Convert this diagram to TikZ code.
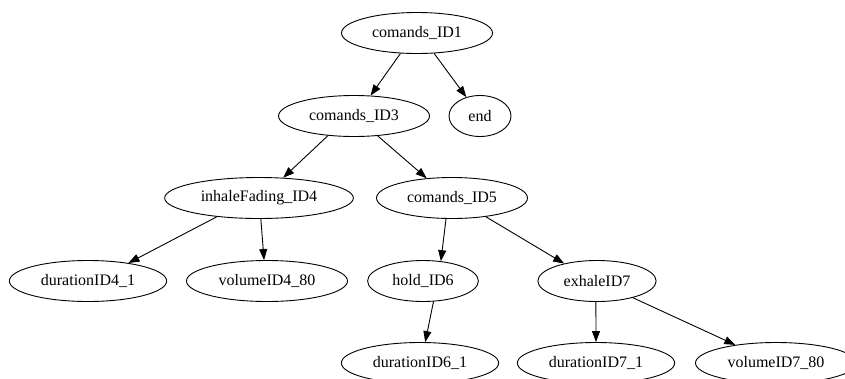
\documentclass[tikz,border=0pt]{standalone}
\usepackage{fontspec}
\setmainfont{Liberation Serif}
\usetikzlibrary{arrows.meta}
\usetikzlibrary{shapes.geometric}

\tikzset{
  gvnode/.style={draw, ellipse, line width=0.9pt, inner xsep=8.5pt, inner ysep=3pt,
    minimum height=41pt, minimum width=62pt, font=\fontsize{16}{19}\selectfont},
  gvedge/.style={-{Triangle[length=11pt,width=8pt]}, line width=0.9pt}
}

\begin{document}
\begin{tikzpicture}[x=1pt, y=-1pt]
\clip (0,0) rectangle (845,378);
\fill [white] (0,0) rectangle (845,378);

\node [gvnode] (cmdOne)     at (417,33)  {comands\_ID1};
\node [gvnode] (cmdThree)   at (354,116) {comands\_ID3};
\node [gvnode] (endNode)    at (480,116) {end};
\node [gvnode] (inhaleFour) at (259,198) {inhaleFading\_ID4};
\node [gvnode] (cmdFive)    at (452,198) {comands\_ID5};
\node [gvnode] (durFour)    at (88,281)  {durationID4\_1};
\node [gvnode] (volFour)    at (267,281) {volumeID4\_80};
\node [gvnode] (holdSix)    at (423,281) {hold\_ID6};
\node [gvnode] (exhaleSeven) at (597,281) {exhaleID7};
\node [gvnode] (durSix)     at (420,363) {durationID6\_1};
\node [gvnode] (durSeven)   at (596,363) {durationID7\_1};
\node [gvnode] (volSeven)   at (776,363) {volumeID7\_80};

\draw [gvedge] (cmdOne.231) -- (cmdThree.51);
\draw [gvedge] (cmdOne.310) -- (endNode.126);
\draw [gvedge] (cmdThree.217) -- (inhaleFour.40);
\draw [gvedge] (cmdThree.320) -- (cmdFive.142);
\draw [gvedge] (inhaleFour.204) -- (durFour.24);
\draw [gvedge] (inhaleFour.275) -- (volFour.98);
\draw [gvedge] (cmdFive.254) -- (holdSix.48);
\draw [gvedge] (cmdFive.331) -- (exhaleSeven.152);
\draw [gvedge] (holdSix.297) -- (durSix.76);
\draw [gvedge] (exhaleSeven.267) -- (durSeven.90);
\draw [gvedge] (exhaleSeven.335) -- (volSeven.156);
\end{tikzpicture}
\end{document}
